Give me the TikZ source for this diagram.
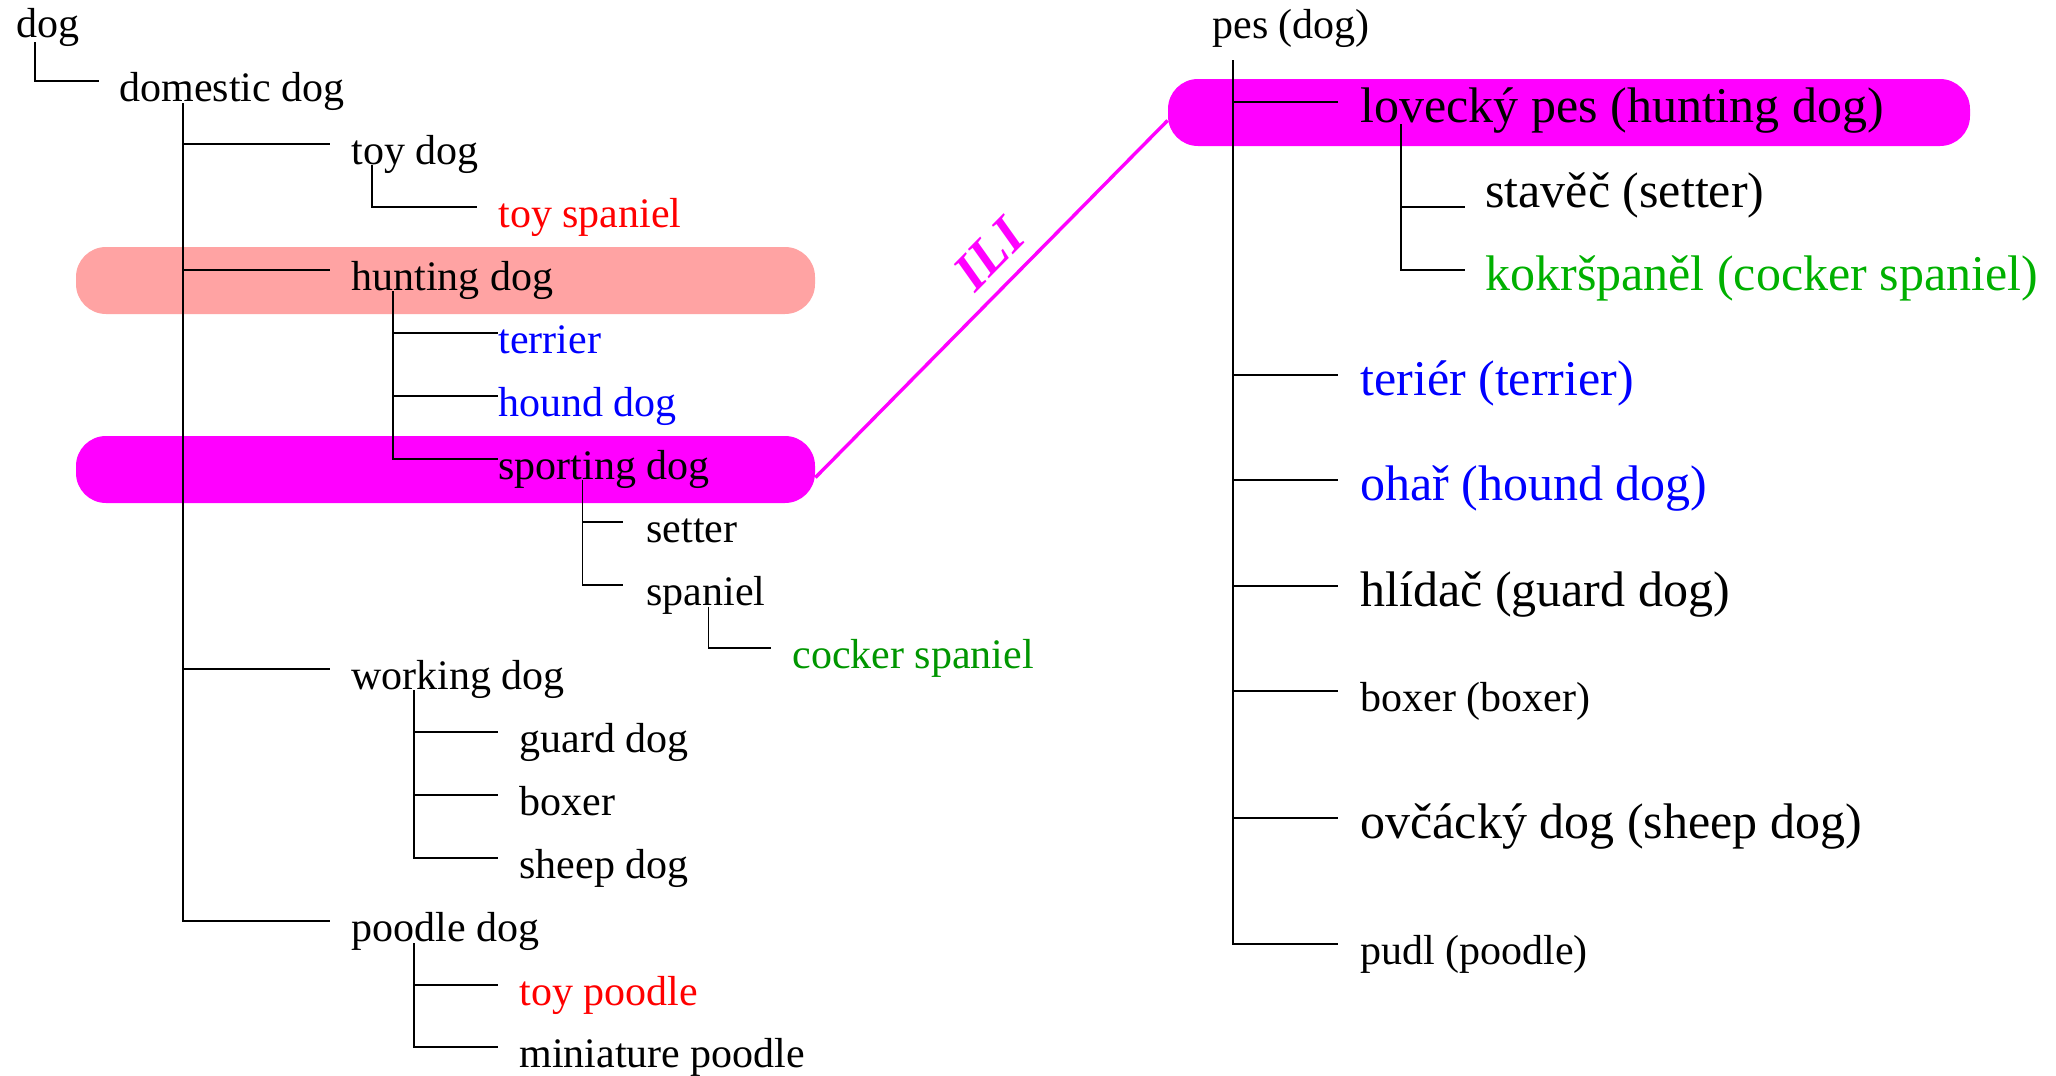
\documentclass[tikz,border=0pt]{standalone}
\usepackage{fontspec}
\setmainfont{Liberation Serif}
\definecolor{saumon}{RGB}{255,163,163}
\definecolor{rose}{RGB}{255,0,255}
\definecolor{vertg}{RGB}{0,150,0}
\definecolor{vertd}{RGB}{0,176,0}
\tikzset{
  petit/.style={inner sep=0pt, anchor=base west, font=\fontsize{21}{25}\selectfont},
  grand/.style={inner sep=0pt, anchor=base west, font=\fontsize{25}{30}\selectfont},
  bandeau/.style={rounded corners=15pt, minimum height=33.5pt, inner sep=0pt},
  lien/.style={rose, line width=1.7pt},
  trait/.style={line width=0.85pt}
}
% branche en equerre : du pied du parent jusqu'a gauche de l'enfant
\newcommand{\coude}[3]{\draw[trait] (#1) |- ([xshift=-#3pt,yshift=10pt]#2.base west);}
\begin{document}
\begin{tikzpicture}[x=0.5pt,y=-0.5pt]
\useasboundingbox (0,0) rectangle (2056,1076);
%bandeaux et lien ILI
\node[bandeau, fill=saumon, minimum width=369.5pt] (b-hunt) at (445.5,280.5) {};
\node[bandeau, fill=rose, minimum width=369.5pt] (b-sport) at (445.5,469.5) {};
\node[bandeau, fill=rose, minimum width=401pt] (b-lov) at (1569,112.5) {};
\draw[lien] ([yshift=-4pt]b-sport.east) -- ([yshift=-4pt]b-lov.west)
  node[pos=0.56, sloped, above=7pt, inner sep=0pt, rose, font=\fontsize{27}{30}\selectfont\bfseries\itshape] (ili) {ILI};

%arbre anglais
\node[petit] (dog) at (16,38) {dog};
\node[petit] (domestic) at (119,101) {domestic dog};
\node[petit] (toydog) at (351,164) {toy dog};
\node[petit, red] (toyspan) at (498,227) {toy spaniel};
\node[petit] (hunting) at (351,290) {hunting dog};
\node[petit, blue] (terrier) at (498,353) {terrier};
\node[petit, blue] (hound) at (498,416) {hound dog};
\node[petit] (sporting) at (498,479) {sporting dog};
\node[petit] (setter) at (646,542) {setter};
\node[petit] (spaniel) at (646,605) {spaniel};
\node[petit, vertg] (cocker) at (792,668) {cocker spaniel};
\node[petit] (working) at (351,689) {working dog};
\node[petit] (guard) at (519,752) {guard dog};
\node[petit] (boxer) at (519,815) {boxer};
\node[petit] (sheep) at (519,878) {sheep dog};
\node[petit] (poodle) at (351,941) {poodle dog};
\node[petit, red] (toypoodle) at (519,1005) {toy poodle};
\node[petit] (mini) at (519,1067) {miniature poodle};

\coordinate (t-dog) at ([xshift=9.5pt,yshift=-2pt]dog.base west);
\coordinate (t-dom) at ([xshift=32pt,yshift=-1pt]domestic.base west);
\coordinate (t-toy) at ([xshift=10.5pt,yshift=-0.5pt]toydog.base west);
\coordinate (t-hunt) at ([xshift=21pt,yshift=-0.5pt]hunting.base west);
\coordinate (t-sport) at ([xshift=42.3pt,yshift=-0.5pt]sporting.base west);
\coordinate (t-span) at ([xshift=31.25pt,yshift=-1pt]spaniel.base west);
\coordinate (t-work) at ([xshift=31.5pt,yshift=-0.5pt]working.base west);
\coordinate (t-pood) at ([xshift=31.5pt,yshift=-1pt]poodle.base west);

\coude{t-dog}{domestic}{10.25}
\coude{t-dom}{toydog}{10.75}
\coude{t-dom}{hunting}{10.75}
\coude{t-dom}{working}{10.75}
\coude{t-dom}{poodle}{10.75}
\coude{t-toy}{toyspan}{10.5}
\coude{t-hunt}{terrier}{0}
\coude{t-hunt}{hound}{0}
\coude{t-hunt}{sporting}{0}
\coude{t-sport}{setter}{11.5}
\coude{t-sport}{spaniel}{11.5}
\coude{t-span}{cocker}{10.5}
\coude{t-work}{guard}{10.5}
\coude{t-work}{boxer}{10.5}
\coude{t-work}{sheep}{10.5}
\coude{t-pood}{toypoodle}{10.5}
\coude{t-pood}{mini}{10.5}

%arbre tcheque
\node[petit] (pes) at (1212,39) {pes (dog)};
\node[grand] (lovecky) at (1360,122) {lovecký pes (hunting dog)};
\node[grand] (stavec) at (1485,207) {stavěč (setter)};
\node[grand, vertd] (kokrs) at (1485,290) {kokršpaněl (cocker spaniel)};
\node[grand, blue] (terier) at (1360,395) {teriér (terrier)};
\node[grand, blue] (ohar) at (1360,500) {ohař (hound dog)};
\node[grand] (hlidac) at (1360,606) {hlídač (guard dog)};
\node[petit] (boxerb) at (1360,711) {boxer (boxer)};
\node[grand] (ovcacky) at (1360,838) {ovčácký dog (sheep dog)};
\node[petit] (pudl) at (1360,964) {pudl (poodle)};

\coordinate (t-pes) at ([xshift=10.5pt,yshift=-10.5pt]pes.base west);
\coordinate (t-lov) at ([xshift=20.5pt,yshift=-1pt]lovecky.base west);

\coude{t-pes}{lovecky}{11}
\coude{t-pes}{terier}{11}
\coude{t-pes}{ohar}{11}
\coude{t-pes}{hlidac}{11}
\coude{t-pes}{boxerb}{11}
\coude{t-pes}{ovcacky}{11}
\coude{t-pes}{pudl}{11}
\draw[trait] (t-lov) |- ([xshift=-10.25pt]stavec.base west);
\coude{t-lov}{kokrs}{10.25}
\end{tikzpicture}
\end{document}
